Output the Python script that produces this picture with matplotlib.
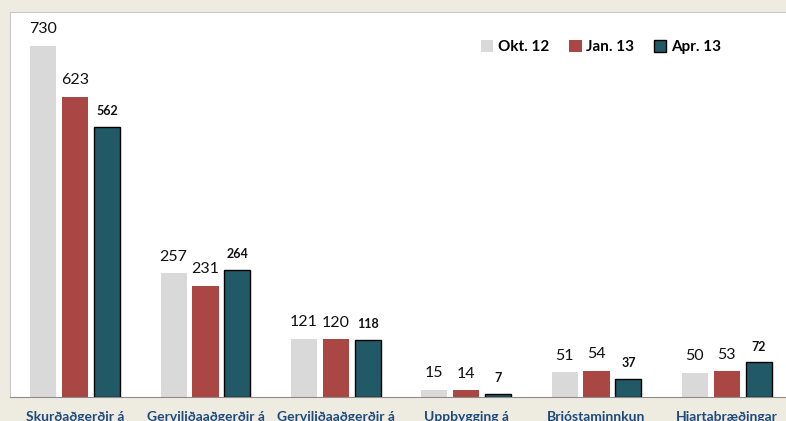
import matplotlib.pyplot as plt
import numpy as np

# Datos
categorias = ["Skurðaðgerðir á", "Gerviliðaaðgerðir á", "Gerviliðaaðgerðir á",
              "Uppbygging á", "Brjóstaminnkun", "Hjartabræðingar"]
okt12 = [730, 257, 121, 15, 51, 50]
jan13 = [623, 231, 120, 14, 54, 53]
apr13 = [562, 264, 118, 7, 37, 72]
series_nombres = ["Okt. 12", "Jan. 13", "Apr. 13"]

plt.rcParams['font.family'] = ['Lato', 'DejaVu Sans']

fig = plt.figure(figsize=(7.86, 4.21), dpi=100)
fig.patch.set_facecolor('#EEECE1')
ax = fig.add_axes([10 / 786, 24 / 421, 782 / 786, 385 / 421])
ax.set_facecolor('white')

x = np.arange(len(categorias))
ancho = 0.2
b1 = ax.bar(x - 0.245, okt12, ancho, color='#D9D9D9', label=series_nombres[0])
b2 = ax.bar(x, jan13, ancho, color='#AA4643', label=series_nombres[1])
b3 = ax.bar(x + 0.245, apr13, ancho, color='#215967', edgecolor='black',
            linewidth=1.0, label=series_nombres[2])

ax.bar_label(b1, padding=7, fontsize=11.5, color='#111111')
ax.bar_label(b2, padding=7, fontsize=11.5, color='#111111')
ax.bar_label(b3, padding=7, fontsize=9, fontweight='bold', color='#111111')

ax.set_xlim(-0.5, len(categorias) - 0.5)
ax.set_ylim(0, 800)
ax.set_yticks([])
ax.set_xticks(x)
ax.set_xticklabels(categorias, fontsize=10, fontweight='bold', color='#1F497D')
ax.tick_params(axis='x', length=0, pad=10)

for lado in ['left', 'top', 'right']:
    ax.spines[lado].set_color('#C8C8C8')
ax.spines['bottom'].set_color('#8C8C8C')

leg = ax.legend(loc='center', bbox_to_anchor=(601 / 786, 1 - 47 / 421),
                bbox_transform=fig.transFigure, ncol=3, frameon=False,
                prop={'size': 11, 'weight': 'bold'}, handlelength=0.8,
                handleheight=0.8, handletextpad=0.3, columnspacing=1.3)

fig.savefig("out.png", dpi=100, facecolor=fig.get_facecolor())
